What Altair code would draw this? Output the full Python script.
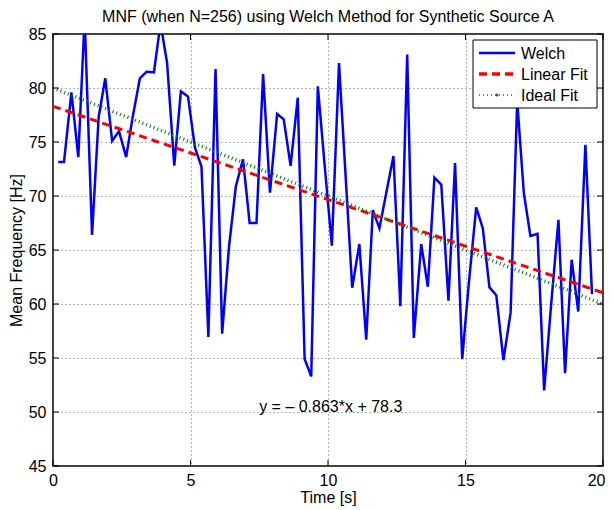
import altair as alt
import pandas as pd

# ---- data ----
times = [0.19, 0.40, 0.67, 0.92, 1.15, 1.42, 1.66, 1.90, 2.15, 2.40,
         2.66, 2.89, 3.16, 3.40, 3.67, 3.91, 4.15, 4.41, 4.65, 4.91,
         5.16, 5.40, 5.65, 5.91, 6.15, 6.40, 6.65, 6.91, 7.15, 7.40,
         7.64, 7.89, 8.15, 8.39, 8.64, 8.90, 9.15, 9.39, 9.63, 9.88,
         10.14, 10.40, 10.64, 10.88, 11.14, 11.39, 11.63, 11.87, 12.12, 12.38,
         12.63, 12.88, 13.12, 13.39, 13.63, 13.87, 14.12, 14.38, 14.62, 14.88,
         15.12, 15.39, 15.63, 15.87, 16.12, 16.38, 16.64, 16.88, 17.12, 17.36,
         17.62, 17.86, 18.10, 18.38, 18.62, 18.86, 19.10, 19.36, 19.60]
welch_mnf = [73.15, 73.15, 79.6, 73.6, 86.5, 66.4, 77.3, 80.9, 75.1, 76.0,
             73.6, 77.2, 80.9, 81.5, 81.45, 86.0, 82.3, 72.8, 79.7, 79.2,
             74.5, 72.7, 56.95, 81.75, 57.25, 65.3, 70.9, 73.4, 67.5, 67.5,
             81.3, 70.3, 77.6, 77.1, 72.8, 79.1, 54.9, 53.3, 80.15, 72.8,
             65.4, 82.3, 71.9, 61.5, 65.55, 56.7, 68.7, 67.0, 70.3, 73.7,
             59.8, 83.1, 56.85, 65.55, 61.6, 71.7, 71.05, 60.3, 73.05, 54.9,
             61.9, 68.95, 67.0, 61.55, 60.8, 54.8, 59.2, 78.8, 70.3, 66.3,
             66.5, 52.0, 59.5, 67.8, 53.6, 64.1, 59.3, 74.75, 60.9]
fit_x = [0, 20]
linear_fit = [78.3, 61.04]
ideal_fit = [80, 60]
series_names = ["Welch", "Linear Fit", "Ideal Fit"]
series_colors = ["#0000ff", "#ff0000", "#008000"]
series_dash = [[1, 0], [8, 5], [1, 3]]
series_width = [2.5, 3.5, 1.3]
x_ticks = [0, 5, 10, 15, 20]
y_ticks = [45, 50, 55, 60, 65, 70, 75, 80, 85]
title_text = ["MNF (when N=256) using Welch Method for Synthetic Source A"]
equation_text = ["y = \u2013 0.863*x + 78.3"]
equation_x = [10.1]
equation_y = [50.5]

FONT = "Liberation Sans"
W, H = 550, 432

rows = [{"t": t, "v": v, "series": "Welch"} for t, v in zip(times, welch_mnf)]
rows += [{"t": t, "v": v, "series": "Linear Fit"} for t, v in zip(fit_x, linear_fit)]
rows += [{"t": t, "v": v, "series": "Ideal Fit"} for t, v in zip(fit_x, ideal_fit)]
df = pd.DataFrame(rows)

xscale = alt.Scale(domain=[0, 20], nice=False, zero=False)
yscale = alt.Scale(domain=[45, 85], nice=False, zero=False)

lines = alt.Chart(df).mark_line(clip=True).encode(
    x=alt.X("t:Q", scale=xscale,
            axis=alt.Axis(values=x_ticks, title="Time [s]", format="d",
                          labelAlign={"condition": {"test": "datum.value == 20", "value": "right"},
                                      "value": "center"},
                          labelOffset={"condition": {"test": "datum.value == 20", "value": 2},
                                       "value": 0})),
    y=alt.Y("v:Q", scale=yscale,
            axis=alt.Axis(values=y_ticks, title="Mean Frequency [Hz]", format="d")),
    color=alt.Color("series:N", scale=alt.Scale(domain=series_names, range=series_colors),
                    legend=None),
    strokeDash=alt.StrokeDash("series:N", scale=alt.Scale(domain=series_names, range=series_dash),
                              legend=None),
    strokeWidth=alt.StrokeWidth("series:N", scale=alt.Scale(domain=series_names, range=series_width),
                                legend=None),
)

eq_df = pd.DataFrame({"t": equation_x, "v": equation_y, "label": equation_text})
eq = alt.Chart(eq_df).mark_text(font=FONT, fontSize=16, color="black",
                                align="center", baseline="middle").encode(
    x=alt.X("t:Q", scale=xscale), y=alt.Y("v:Q", scale=yscale), text="label:N")

title = alt.Chart(pd.DataFrame({"label": title_text})).mark_text(
    font=FONT, fontSize=16, color="black", align="center", baseline="alphabetic").encode(
    x=alt.value(W / 2), y=alt.value(-12), text="label:N")

# inward ticks on all four sides
xt = pd.DataFrame({"t": x_ticks})
yt = pd.DataFrame({"v": y_ticks})
tick_len = 6
xtick_b = alt.Chart(xt).mark_rule(color="black", strokeWidth=1).encode(
    x=alt.X("t:Q", scale=xscale), y=alt.value(H), y2=alt.value(H - tick_len))
xtick_t = alt.Chart(xt).mark_rule(color="black", strokeWidth=1).encode(
    x=alt.X("t:Q", scale=xscale), y=alt.value(0), y2=alt.value(tick_len))
ytick_l = alt.Chart(yt).mark_rule(color="black", strokeWidth=1).encode(
    y=alt.Y("v:Q", scale=yscale), x=alt.value(0), x2=alt.value(tick_len))
ytick_r = alt.Chart(yt).mark_rule(color="black", strokeWidth=1).encode(
    y=alt.Y("v:Q", scale=yscale), x=alt.value(W), x2=alt.value(W - tick_len))

# legend box drawn with marks
box_x0, box_x1, box_y0, box_y1 = 420, 544, 6, 74
row_y = [19, 40, 61]
sym_x0, sym_x1, lab_x = 426, 462, 468
legend_layers = [
    alt.Chart(pd.DataFrame({"k": [0]})).mark_rect(
        fill="white", stroke="black", strokeWidth=1).encode(
        x=alt.value(box_x0), x2=alt.value(box_x1), y=alt.value(box_y0), y2=alt.value(box_y1))
]
legend_sym_width = [2.5, 3.5, 1.3]
for name, col, dash, wd, ry in zip(series_names, series_colors, series_dash, legend_sym_width, row_y):
    one = pd.DataFrame({"label": [name]})
    legend_layers.append(
        alt.Chart(one).mark_rule(color=col, strokeDash=dash, strokeWidth=wd).encode(
            x=alt.value(sym_x0), x2=alt.value(sym_x1), y=alt.value(ry)))
    legend_layers.append(
        alt.Chart(one).mark_text(font=FONT, fontSize=16, color="black",
                                 align="left", baseline="middle").encode(
            x=alt.value(lab_x), y=alt.value(ry + 1), text="label:N"))
legend_layers.append(
    alt.Chart(pd.DataFrame({"label": ["Ideal Fit"]})).mark_point(
        filled=True, color="#008000", size=10, opacity=1).encode(
        x=alt.value((sym_x0 + sym_x1) / 2), y=alt.value(row_y[2])))

chart = alt.layer(lines, xtick_b, xtick_t, ytick_l, ytick_r, eq, title,
                  *legend_layers).properties(
    width=W, height=H,
    autosize=alt.AutoSizeParams(type="none"),
    padding={"left": 45, "top": 26, "right": 2, "bottom": 40},
).configure_view(
    stroke="black", strokeWidth=1.5
).configure_axis(
    labelFont=FONT, labelFontSize=16, labelColor="black", labelFlush=False,
    titleFont=FONT, titleFontSize=16, titleFontWeight="normal", titleColor="black",
    domain=False, ticks=False,
    grid=True, gridColor="#666666", gridDash=[1, 3], gridWidth=1, gridOpacity=1,
).configure_axisX(
    labelPadding=6, titleY=36, titleBaseline="alphabetic",
).configure_axisY(
    labelPadding=7, titlePadding=4,
)

chart.save("out.html", embed_options={"renderer": "svg", "actions": False})
